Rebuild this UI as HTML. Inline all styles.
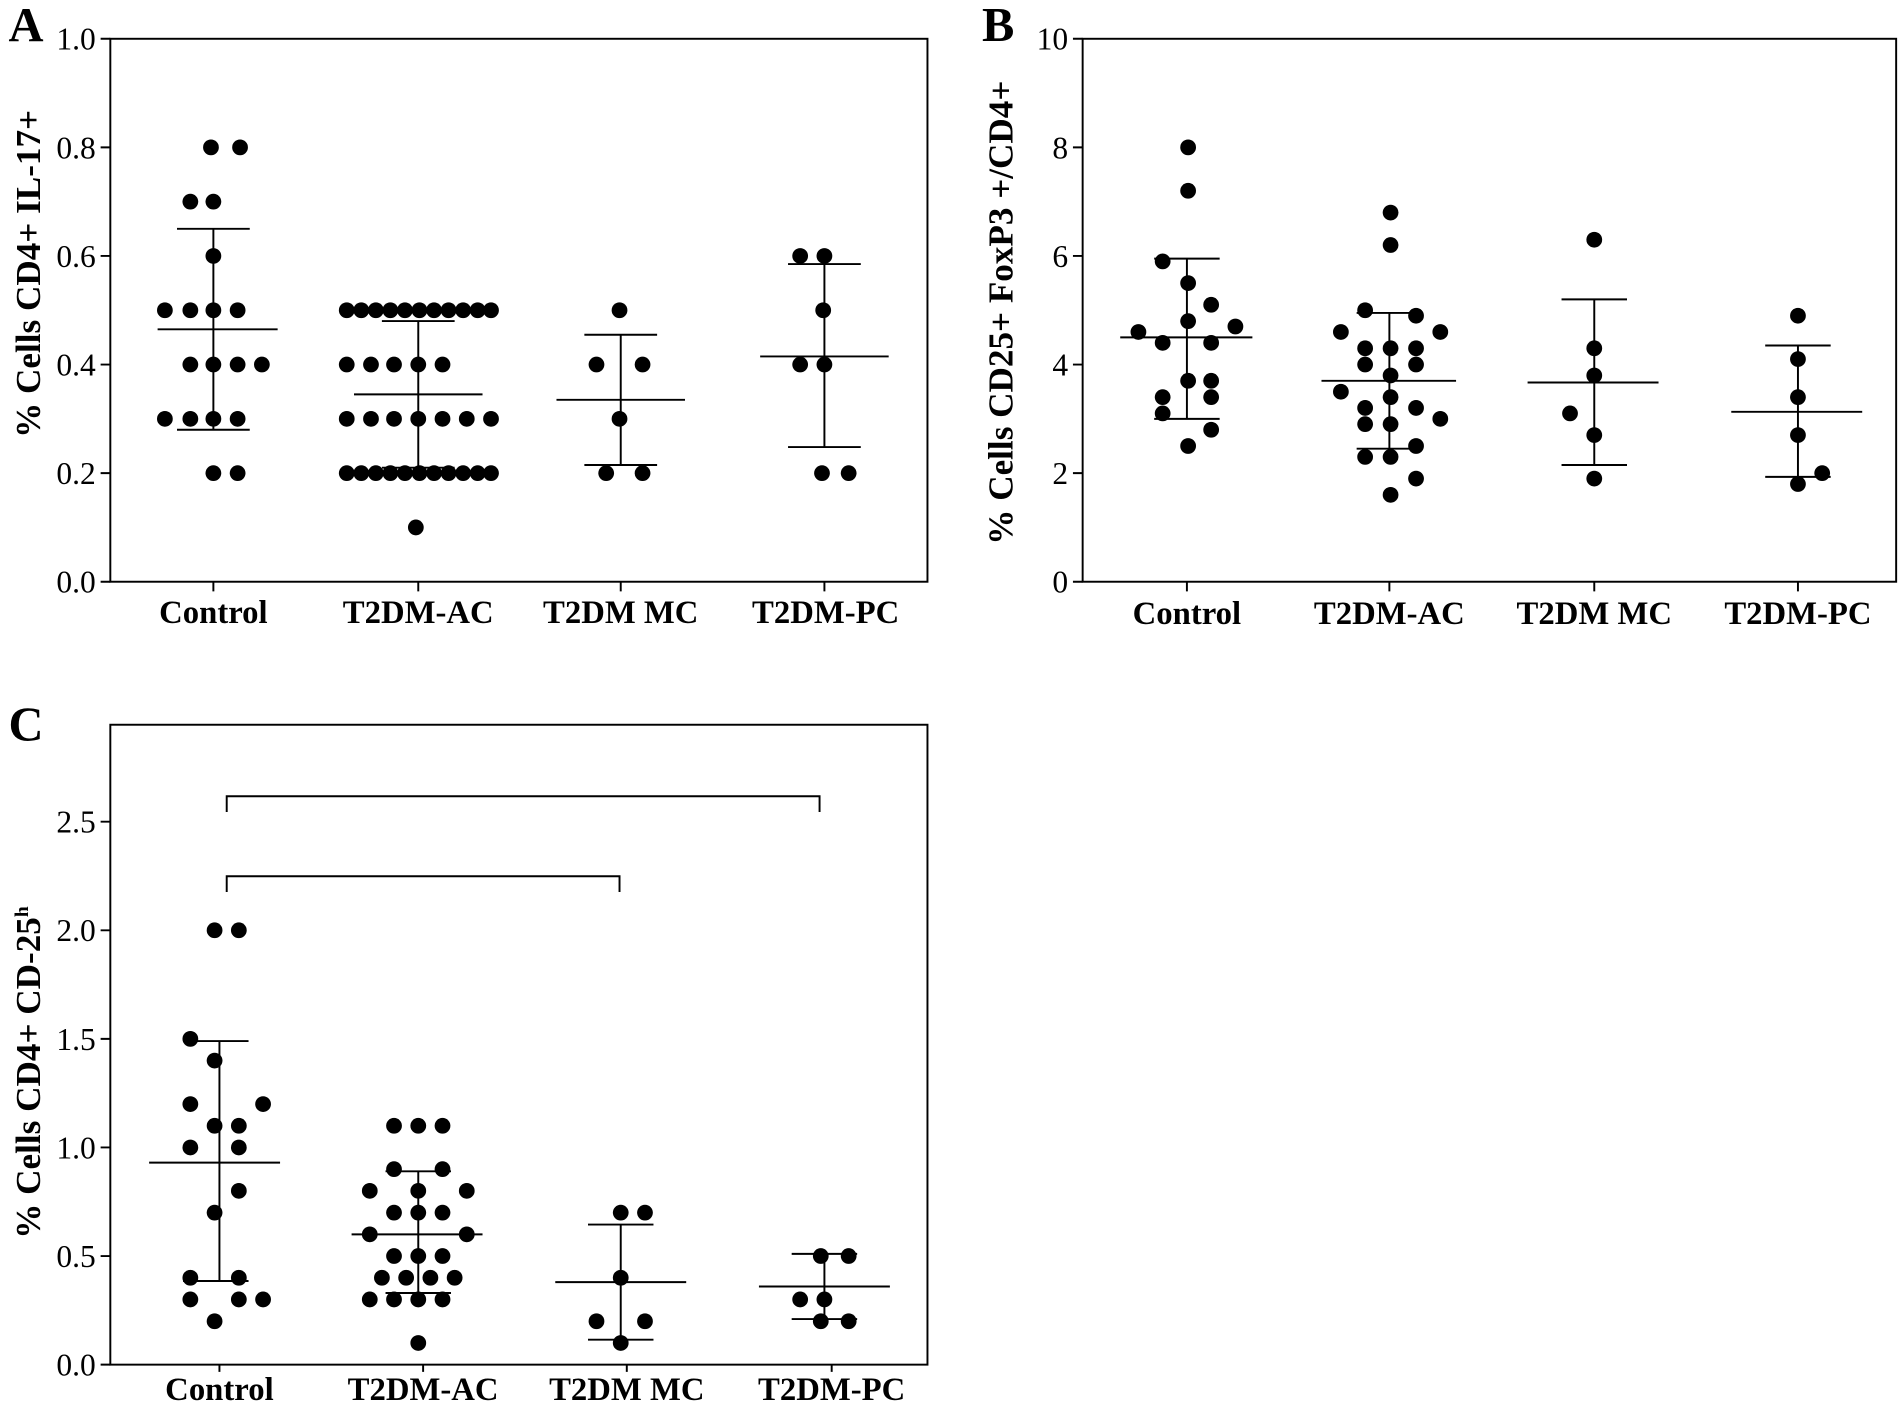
<!DOCTYPE html>
<html><head><meta charset="utf-8"><style>
html,body{margin:0;padding:0;background:#fff;}
svg{display:block;}
text{font-family:"Liberation Serif",serif;fill:#000;}
.t{font-size:26px;}
.c{font-size:27px;font-weight:bold;}
.yl{font-size:29px;font-weight:bold;}
.p{font-size:40px;font-weight:bold;}
</style></head><body>
<svg width="1901" height="1401" viewBox="0 0 1568 1156" preserveAspectRatio="none" xmlns="http://www.w3.org/2000/svg">
<g stroke="#000" stroke-width="1.6" fill="none">
<rect x="91" y="32" width="674" height="448"/>
<path d="M83 32H91M83 121.6H91M83 211.2H91M83 300.8H91M83 390.4H91M83 480H91M176 480V488M345 480V488M512 480V488M680 480V488"/>
<rect x="893" y="32" width="671" height="448"/>
<path d="M885 32H893M885 121.6H893M885 211.2H893M885 300.8H893M885 390.4H893M885 480H893M979 480V488M1146 480V488M1315 480V488M1483 480V488"/>
<rect x="91" y="598" width="674" height="528"/>
<path d="M83 678H91M83 767.6H91M83 857.2H91M83 946.8H91M83 1036.4H91M83 1126H91M181 1126V1132M349 1126V1132M517 1126V1132M686 1126V1132"/>
<path d="M187 670V657H676V670M187 736V723H511V736"/>
<path d="M176 188.8V354.6M146 188.8H206M146 354.6H206M130 271.7H229"/>
<path d="M345 264.9V385.9M315 264.9H375M315 385.9H375M292 325.4H398"/>
<path d="M512 276.2V383.7M482 276.2H542M482 383.7H542M459 329.9H565"/>
<path d="M680 217.9V368.9M650 217.9H710M650 368.9H710M627 294.1H733"/>
<path d="M979 213.4V345.6M952 213.4H1006M952 345.6H1006M924 278.4H1033"/>
<path d="M1146 258.2V370.2M1119 258.2H1173M1119 370.2H1173M1090 314.2H1201"/>
<path d="M1315 247V383.7M1288 247H1342M1288 383.7H1342M1260 315.6H1368"/>
<path d="M1483 285.1V393.5M1456 285.1H1510M1456 393.5H1510M1428 339.8H1536"/>
<path d="M181 859V1057M151 859H205M151 1057H205M123 959.3H231"/>
<path d="M345 966.5V1066.9M318 966.5H372M318 1066.9H372M290 1018.5H398"/>
<path d="M512 1010.4V1105.4M485 1010.4H539M485 1105.4H539M458 1057.9H566"/>
<path d="M680 1034.6V1088.4M653 1034.6H707M653 1088.4H707M626 1061.5H734"/>
</g>
<g fill="#000">
<circle cx="174" cy="121.6" r="6.5"/><circle cx="198" cy="121.6" r="6.5"/>
<circle cx="157" cy="166.4" r="6.5"/><circle cx="176" cy="166.4" r="6.5"/>
<circle cx="176" cy="211.2" r="6.5"/>
<circle cx="136" cy="256" r="6.5"/><circle cx="157" cy="256" r="6.5"/><circle cx="176" cy="256" r="6.5"/><circle cx="196" cy="256" r="6.5"/>
<circle cx="157" cy="300.8" r="6.5"/><circle cx="176" cy="300.8" r="6.5"/><circle cx="196" cy="300.8" r="6.5"/><circle cx="216" cy="300.8" r="6.5"/>
<circle cx="136" cy="345.6" r="6.5"/><circle cx="157" cy="345.6" r="6.5"/><circle cx="176" cy="345.6" r="6.5"/><circle cx="196" cy="345.6" r="6.5"/>
<circle cx="176" cy="390.4" r="6.5"/><circle cx="196" cy="390.4" r="6.5"/>
<circle cx="286" cy="256" r="6.5"/><circle cx="298" cy="256" r="6.5"/><circle cx="310" cy="256" r="6.5"/><circle cx="322" cy="256" r="6.5"/><circle cx="334" cy="256" r="6.5"/><circle cx="346" cy="256" r="6.5"/><circle cx="358" cy="256" r="6.5"/><circle cx="370" cy="256" r="6.5"/><circle cx="382" cy="256" r="6.5"/><circle cx="394" cy="256" r="6.5"/><circle cx="405" cy="256" r="6.5"/>
<circle cx="286" cy="300.8" r="6.5"/><circle cx="306" cy="300.8" r="6.5"/><circle cx="325" cy="300.8" r="6.5"/><circle cx="345" cy="300.8" r="6.5"/><circle cx="365" cy="300.8" r="6.5"/>
<circle cx="286" cy="345.6" r="6.5"/><circle cx="306" cy="345.6" r="6.5"/><circle cx="325" cy="345.6" r="6.5"/><circle cx="345" cy="345.6" r="6.5"/><circle cx="365" cy="345.6" r="6.5"/><circle cx="385" cy="345.6" r="6.5"/><circle cx="405" cy="345.6" r="6.5"/>
<circle cx="286" cy="390.4" r="6.5"/><circle cx="298" cy="390.4" r="6.5"/><circle cx="310" cy="390.4" r="6.5"/><circle cx="322" cy="390.4" r="6.5"/><circle cx="334" cy="390.4" r="6.5"/><circle cx="346" cy="390.4" r="6.5"/><circle cx="358" cy="390.4" r="6.5"/><circle cx="370" cy="390.4" r="6.5"/><circle cx="382" cy="390.4" r="6.5"/><circle cx="394" cy="390.4" r="6.5"/><circle cx="405" cy="390.4" r="6.5"/>
<circle cx="343" cy="435.2" r="6.5"/>
<circle cx="511" cy="256" r="6.5"/><circle cx="492" cy="300.8" r="6.5"/><circle cx="530" cy="300.8" r="6.5"/><circle cx="511" cy="345.6" r="6.5"/><circle cx="500" cy="390.4" r="6.5"/><circle cx="530" cy="390.4" r="6.5"/>
<circle cx="660" cy="211.2" r="6.5"/><circle cx="680" cy="211.2" r="6.5"/><circle cx="679" cy="256" r="6.5"/><circle cx="660" cy="300.8" r="6.5"/><circle cx="680" cy="300.8" r="6.5"/><circle cx="678" cy="390.4" r="6.5"/><circle cx="700" cy="390.4" r="6.5"/>
<circle cx="980" cy="121.6" r="6.5"/><circle cx="980" cy="157.4" r="6.5"/><circle cx="959" cy="215.7" r="6.5"/><circle cx="980" cy="233.6" r="6.5"/><circle cx="999" cy="251.5" r="6.5"/><circle cx="939" cy="273.9" r="6.5"/><circle cx="1019" cy="269.4" r="6.5"/><circle cx="980" cy="265" r="6.5"/><circle cx="959" cy="282.9" r="6.5"/><circle cx="999" cy="282.9" r="6.5"/><circle cx="980" cy="314.2" r="6.5"/><circle cx="999" cy="314.2" r="6.5"/><circle cx="959" cy="327.7" r="6.5"/><circle cx="999" cy="327.7" r="6.5"/><circle cx="959" cy="341.1" r="6.5"/><circle cx="999" cy="354.6" r="6.5"/><circle cx="980" cy="368" r="6.5"/>
<circle cx="1147" cy="175.4" r="6.5"/><circle cx="1147" cy="202.2" r="6.5"/><circle cx="1126" cy="256" r="6.5"/><circle cx="1168" cy="260.5" r="6.5"/><circle cx="1106" cy="273.9" r="6.5"/><circle cx="1126" cy="287.4" r="6.5"/><circle cx="1147" cy="287.4" r="6.5"/><circle cx="1168" cy="287.4" r="6.5"/><circle cx="1188" cy="273.9" r="6.5"/><circle cx="1126" cy="300.8" r="6.5"/><circle cx="1147" cy="309.8" r="6.5"/><circle cx="1168" cy="300.8" r="6.5"/><circle cx="1106" cy="323.2" r="6.5"/><circle cx="1126" cy="336.6" r="6.5"/><circle cx="1147" cy="327.7" r="6.5"/><circle cx="1168" cy="336.6" r="6.5"/><circle cx="1188" cy="345.6" r="6.5"/><circle cx="1126" cy="350" r="6.5"/><circle cx="1147" cy="350" r="6.5"/><circle cx="1168" cy="368" r="6.5"/><circle cx="1126" cy="377" r="6.5"/><circle cx="1147" cy="377" r="6.5"/><circle cx="1168" cy="394.9" r="6.5"/><circle cx="1147" cy="408.3" r="6.5"/>
<circle cx="1315" cy="197.8" r="6.5"/><circle cx="1315" cy="287.4" r="6.5"/><circle cx="1315" cy="309.8" r="6.5"/><circle cx="1295" cy="341.1" r="6.5"/><circle cx="1315" cy="359" r="6.5"/><circle cx="1315" cy="394.9" r="6.5"/>
<circle cx="1483" cy="260.5" r="6.5"/><circle cx="1483" cy="296.3" r="6.5"/><circle cx="1483" cy="327.7" r="6.5"/><circle cx="1483" cy="359" r="6.5"/><circle cx="1483" cy="399.4" r="6.5"/><circle cx="1503" cy="390.4" r="6.5"/>
<circle cx="177" cy="767.6" r="6.5"/><circle cx="197" cy="767.6" r="6.5"/><circle cx="157" cy="857.2" r="6.5"/><circle cx="177" cy="875.1" r="6.5"/><circle cx="157" cy="911" r="6.5"/><circle cx="217" cy="911" r="6.5"/><circle cx="177" cy="928.9" r="6.5"/><circle cx="197" cy="928.9" r="6.5"/><circle cx="157" cy="946.8" r="6.5"/><circle cx="197" cy="946.8" r="6.5"/><circle cx="197" cy="982.6" r="6.5"/><circle cx="177" cy="1000.6" r="6.5"/><circle cx="157" cy="1054.3" r="6.5"/><circle cx="197" cy="1054.3" r="6.5"/><circle cx="157" cy="1072.2" r="6.5"/><circle cx="197" cy="1072.2" r="6.5"/><circle cx="217" cy="1072.2" r="6.5"/><circle cx="177" cy="1090.2" r="6.5"/>
<circle cx="325" cy="928.9" r="6.5"/><circle cx="345" cy="928.9" r="6.5"/><circle cx="365" cy="928.9" r="6.5"/><circle cx="325" cy="964.7" r="6.5"/><circle cx="365" cy="964.7" r="6.5"/><circle cx="305" cy="982.6" r="6.5"/><circle cx="345" cy="982.6" r="6.5"/><circle cx="385" cy="982.6" r="6.5"/><circle cx="325" cy="1000.6" r="6.5"/><circle cx="345" cy="1000.6" r="6.5"/><circle cx="365" cy="1000.6" r="6.5"/><circle cx="305" cy="1018.5" r="6.5"/><circle cx="385" cy="1018.5" r="6.5"/><circle cx="325" cy="1036.4" r="6.5"/><circle cx="345" cy="1036.4" r="6.5"/><circle cx="365" cy="1036.4" r="6.5"/><circle cx="315" cy="1054.3" r="6.5"/><circle cx="335" cy="1054.3" r="6.5"/><circle cx="355" cy="1054.3" r="6.5"/><circle cx="375" cy="1054.3" r="6.5"/><circle cx="305" cy="1072.2" r="6.5"/><circle cx="325" cy="1072.2" r="6.5"/><circle cx="345" cy="1072.2" r="6.5"/><circle cx="365" cy="1072.2" r="6.5"/><circle cx="345" cy="1108.1" r="6.5"/>
<circle cx="512" cy="1000.6" r="6.5"/><circle cx="532" cy="1000.6" r="6.5"/><circle cx="512" cy="1054.3" r="6.5"/><circle cx="492" cy="1090.2" r="6.5"/><circle cx="532" cy="1090.2" r="6.5"/><circle cx="512" cy="1108.1" r="6.5"/>
<circle cx="677" cy="1036.4" r="6.5"/><circle cx="700" cy="1036.4" r="6.5"/><circle cx="660" cy="1072.2" r="6.5"/><circle cx="680" cy="1072.2" r="6.5"/><circle cx="677" cy="1090.2" r="6.5"/><circle cx="700" cy="1090.2" r="6.5"/>
</g>
<g class="t" text-anchor="end">
<text x="79" y="41">1.0</text><text x="79" y="130.6">0.8</text><text x="79" y="220.2">0.6</text><text x="79" y="309.8">0.4</text><text x="79" y="399.4">0.2</text><text x="79" y="489">0.0</text>
<text x="881" y="41">10</text><text x="881" y="130.6">8</text><text x="881" y="220.2">6</text><text x="881" y="309.8">4</text><text x="881" y="399.4">2</text><text x="881" y="489">0</text>
<text x="79" y="687">2.5</text><text x="79" y="776.6">2.0</text><text x="79" y="866.2">1.5</text><text x="79" y="955.8">1.0</text><text x="79" y="1045.4">0.5</text><text x="79" y="1135">0.0</text>
</g>
<g class="c" text-anchor="middle">
<text x="176" y="514">Control</text><text x="345" y="514">T2DM-AC</text><text x="512" y="514">T2DM MC</text><text x="681" y="514">T2DM-PC</text>
<text x="979" y="515">Control</text><text x="1146" y="515">T2DM-AC</text><text x="1315" y="515">T2DM MC</text><text x="1483" y="515">T2DM-PC</text>
<text x="181" y="1155">Control</text><text x="349" y="1155">T2DM-AC</text><text x="517" y="1155">T2DM MC</text><text x="686" y="1155">T2DM-PC</text>
</g>
<g class="yl" text-anchor="middle">
<text transform="translate(33,226) rotate(-90)">% Cells CD4+ IL-17+</text>
<text transform="translate(835,258) rotate(-90)">% Cells CD25+ FoxP3 +/CD4+</text>
<text transform="translate(33,885) rotate(-90)">% Cells CD4+ CD-25<tspan font-size="16" dy="-10">h</tspan></text>
</g>
<text class="p" x="7" y="34">A</text>
<text class="p" x="810" y="34">B</text>
<text class="p" x="7" y="611">C</text>
</svg>
</body></html>
